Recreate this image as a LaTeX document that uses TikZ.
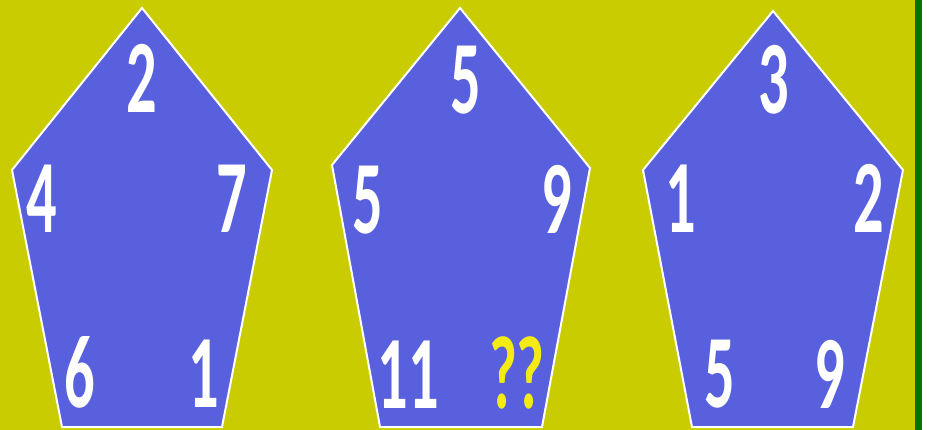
\documentclass[tikz,border=0pt]{standalone}
\usepackage{fontspec}
\newfontfamily\numfont[FakeStretch=0.58]{Carlito}
\definecolor{bgyel}{RGB}{200,204,0}
\definecolor{pblue}{RGB}{88,96,222}
\definecolor{bargreen}{RGB}{0,118,0}
\definecolor{qyel}{RGB}{245,235,20}
\begin{document}
\begin{tikzpicture}[x=1pt,y=-1pt,
  num/.style={text=white, font=\numfont\bfseries\fontsize{104}{104}\selectfont, anchor=base, inner sep=0pt},
  qnum/.style={num, text=qyel},
  pent/.style={fill=pblue, draw=white, line width=2pt, line join=miter}]
\useasboundingbox (0,0) rectangle (935,430);
\fill[bgyel] (0,0) rectangle (915,430);
\fill[bargreen] (915,0) rectangle (922,430);
\fill[white] (922,0) rectangle (935,430);
% pentagon 1
\draw[pent] (142,8) -- (272,170) -- (222,427) -- (62,427) -- (12,170) -- cycle;
\node[num] (a1) at (142,113) {2};
\node[num] (a2) at (42,233) {4};
\node[num] (a3) at (232,233) {7};
\node[num] (a4) at (80,408) {6};
\node[num] (a5) at (204,408) {1};
% pentagon 2
\draw[pent] (460,8) -- (590,168) -- (542,427) -- (380,427) -- (332,165) -- cycle;
\node[num] (b1) at (466,114) {5};
\node[num] (b2) at (368,234) {5};
\node[num] (b3) at (557,234) {9};
\node[num] (b4) at (408,409) {11};
\node[qnum] (b5) at (517,409) {??};
% pentagon 3
\draw[pent] (773,11) -- (903,170) -- (853,427) -- (692,427) -- (643,170) -- cycle;
\node[num] (c1) at (774,114) {3};
\node[num] (c2) at (681,233) {1};
\node[num] (c3) at (869,233) {2};
\node[num] (c4) at (720,408) {5};
\node[num] (c5) at (830,409) {9};
\end{tikzpicture}
\end{document}
